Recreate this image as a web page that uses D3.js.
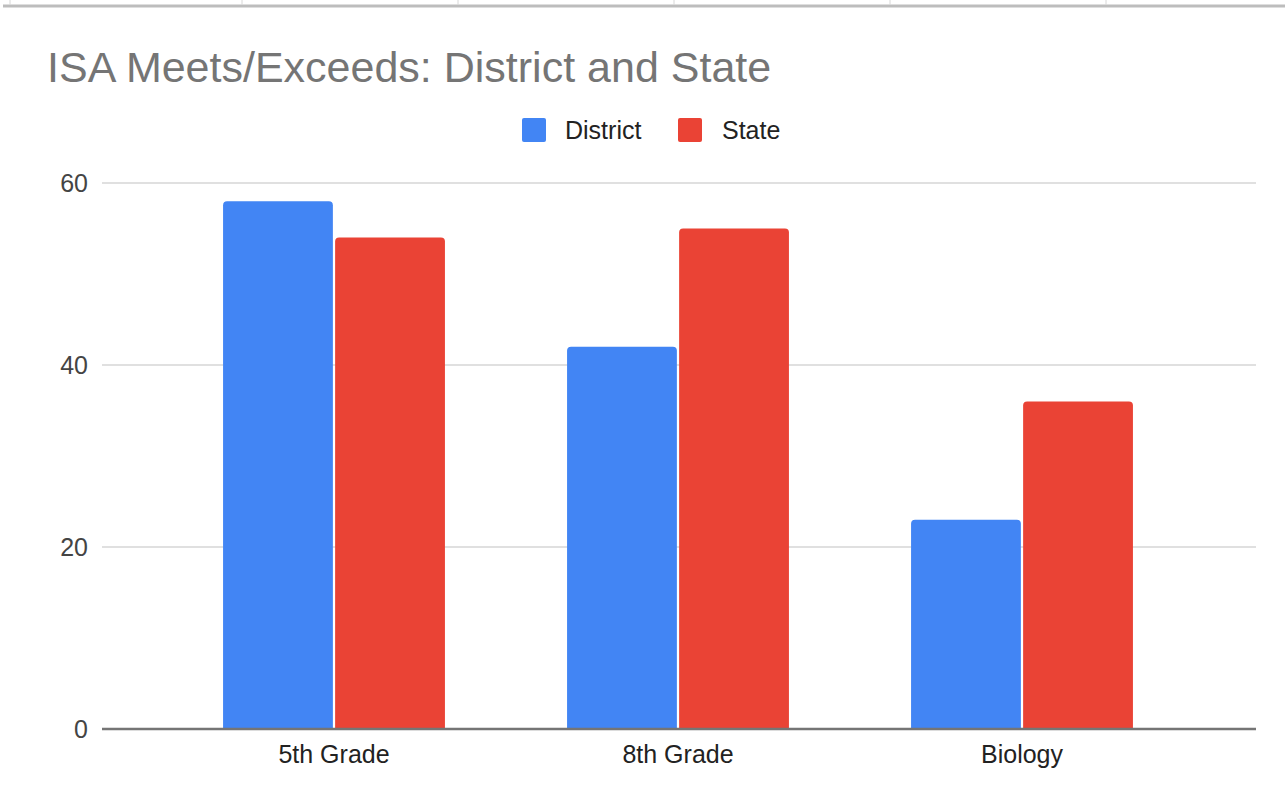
<!DOCTYPE html>
<html>
<head>
<meta charset="utf-8">
<script src="https://cdn.jsdelivr.net/npm/d3@7"></script>
<style>
  html, body { margin: 0; padding: 0; background: #fff; }
  svg { display: block; font-family: "Liberation Sans", Arial, sans-serif; }
</style>
</head>
<body>
<svg id="chart" width="1285" height="802"></svg>
<script>
const categories = ["5th Grade", "8th Grade", "Biology"];
const seriesNames = ["District", "State"];
const districtValues = [58, 42, 23];
const stateValues = [54, 55, 36];
const yTicks = [0, 20, 40, 60];
const colors = ["#4285F4", "#EA4335"];
const title = "ISA Meets/Exceeds: District and State";

const svg = d3.select("#chart");
const W = 1285, H = 802;

// spreadsheet strip remnant at the very top
const topMarks = [10, 242, 458, 674, 890, 1106];
svg.append("line").attr("x1", 3).attr("x2", W).attr("y1", 6).attr("y2", 6)
  .attr("stroke", "#bdbdbd").attr("stroke-width", 3);
svg.selectAll("line.tm").data(topMarks).enter().append("line").attr("class", "tm")
  .attr("x1", d => d).attr("x2", d => d).attr("y1", 0).attr("y2", 5)
  .attr("stroke", "#d8d8d8").attr("stroke-width", 1);

const plotLeft = 102, plotRight = 1256;
const y = d3.scaleLinear().domain([0, 60]).range([729, 183]);
const x0 = d3.scaleBand().domain(categories).range([162, 1194])
  .paddingInner(0.355).paddingOuter(0.1775);
const x1 = d3.scaleBand().domain(seriesNames).range([0, x0.bandwidth()]).paddingInner(0.02);

// title
svg.append("text").attr("x", 47).attr("y", 82).text(title)
  .attr("font-size", 43).attr("fill", "#757575");

// legend
const legend = [
  { name: "District", sx: 522, tx: 565 },
  { name: "State", sx: 678, tx: 722 }
];
legend.forEach((l, i) => {
  svg.append("rect").attr("x", l.sx).attr("y", 118).attr("width", 24).attr("height", 24)
    .attr("rx", 2).attr("fill", colors[i]);
  svg.append("text").attr("x", l.tx).attr("y", 139).text(l.name)
    .attr("font-size", 25).attr("fill", "#222");
});

// gridlines
svg.selectAll("line.grid").data(yTicks.filter(t => t !== 0)).enter().append("line")
  .attr("class", "grid")
  .attr("x1", plotLeft).attr("x2", plotRight)
  .attr("y1", d => y(d)).attr("y2", d => y(d))
  .attr("stroke", "#e0e0e0").attr("stroke-width", 2);

// y tick labels
svg.selectAll("text.yt").data(yTicks).enter().append("text").attr("class", "yt")
  .attr("x", 88).attr("y", d => y(d)).attr("dy", "0.35em")
  .attr("text-anchor", "end").attr("font-size", 25).attr("fill", "#444")
  .text(d => d);

// bars
const data = categories.map((c, i) => ({ cat: c, vals: [districtValues[i], stateValues[i]] }));
const groups = svg.selectAll("g.grp").data(data).enter().append("g")
  .attr("transform", d => `translate(${x0(d.cat)},0)`);
function topRounded(xp, yp, w, h, r) {
  r = Math.min(r, h, w / 2);
  return `M${xp},${yp + h}V${yp + r}Q${xp},${yp} ${xp + r},${yp}H${xp + w - r}Q${xp + w},${yp} ${xp + w},${yp + r}V${yp + h}Z`;
}
groups.selectAll("path").data(d => d.vals.map((v, i) => ({ v, s: seriesNames[i], i })))
  .enter().append("path")
  .attr("d", d => topRounded(x1(d.s), y(d.v), x1.bandwidth(), y(0) - y(d.v), 4))
  .attr("fill", d => colors[d.i]);

// baseline
svg.append("line").attr("x1", plotLeft).attr("x2", plotRight)
  .attr("y1", y(0)).attr("y2", y(0)).attr("stroke", "#757575").attr("stroke-width", 2.5);

// x labels
svg.selectAll("text.xt").data(categories).enter().append("text").attr("class", "xt")
  .attr("x", d => x0(d) + x0.bandwidth() / 2).attr("y", 763)
  .attr("text-anchor", "middle").attr("font-size", 25).attr("fill", "#222")
  .text(d => d);
</script>
</body>
</html>
